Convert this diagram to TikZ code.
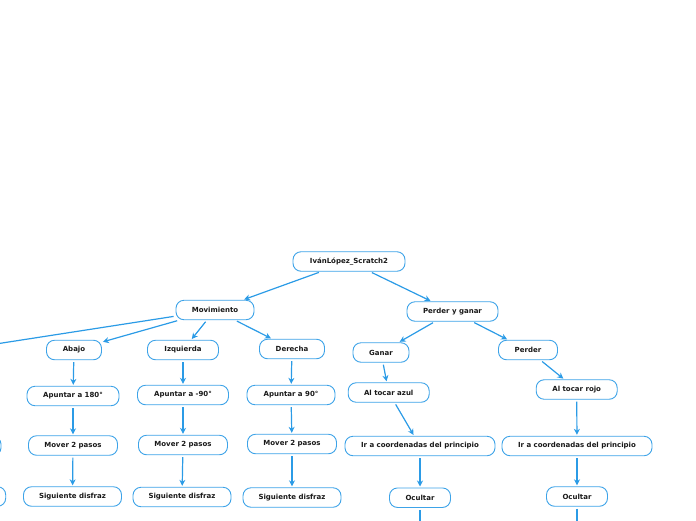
\documentclass[tikz,border=0pt]{standalone}
\usepackage{fontspec}
\setmainfont{DejaVu Sans}
\usetikzlibrary{arrows.meta}
\definecolor{edgeblue}{RGB}{43,155,230}
\definecolor{boxblue}{RGB}{61,163,232}
\definecolor{txt}{RGB}{25,25,25}
\tikzset{
  topic/.style={draw=boxblue, line width=0.9pt, rounded corners=8pt, fill=white,
    minimum height=19.5pt, inner sep=0pt, text=txt,
    font=\fontsize{7}{8}\selectfont\bfseries},
  conn/.style={draw=edgeblue, line width=1.2pt, shorten <=2pt, shorten >=1pt,
    -{Stealth[length=6pt,width=6pt]}},
  plain/.style={draw=edgeblue, line width=1.2pt, shorten <=2pt}
}
\begin{document}
\begin{tikzpicture}[x=1pt,y=-1pt]
\useasboundingbox (0,0) rectangle (696,520);
% nodes
\node[topic, minimum width=112pt] (root) at (349,261.5) {IvánLópez\_Scratch2};
\node[topic, minimum width=78pt] (mov) at (215,310) {Movimiento};
\node[topic, minimum width=91pt] (pyg) at (452.5,311.5) {Perder y ganar};
\node[topic, minimum width=56pt] (ganar) at (381,352.5) {Ganar};
\node[topic, minimum width=59pt] (perder) at (528,350) {Perder};
\node[topic, minimum width=55pt] (abajo) at (74,350) {Abajo};
\node[topic, minimum width=71pt] (izq) at (183,350) {Izquierda};
\node[topic, minimum width=65pt] (der) at (292,349) {Derecha};
\node[topic, minimum width=92pt] (ap1) at (73,396) {Apuntar a 180°};
\node[topic, minimum width=91pt] (ap2) at (183,395) {Apuntar a -90°};
\node[topic, minimum width=88pt] (ap3) at (291,395) {Apuntar a 90°};
\node[topic, minimum width=89pt] (mv1) at (73,445.5) {Mover 2 pasos};
\node[topic, minimum width=89pt] (mv2) at (183,445) {Mover 2 pasos};
\node[topic, minimum width=89pt] (mv3) at (292,444) {Mover 2 pasos};
\node[topic, minimum width=98pt] (sd1) at (72.5,496.5) {Siguiente disfraz};
\node[topic, minimum width=98pt] (sd2) at (182,497) {Siguiente disfraz};
\node[topic, minimum width=98pt] (sd3) at (292,497.5) {Siguiente disfraz};
\node[topic, minimum width=81pt] (azul) at (388.7,392.5) {Al tocar azul};
\node[topic, minimum width=81pt] (rojo) at (576.7,389.5) {Al tocar rojo};
\node[topic, minimum width=150pt] (ir1) at (420,446) {Ir a coordenadas del principio};
\node[topic, minimum width=150pt] (ir2) at (577,446) {Ir a coordenadas del principio};
\node[topic, minimum width=61pt] (oc1) at (420,497.7) {Ocultar};
\node[topic, minimum width=61pt] (oc2) at (577,496.5) {Ocultar};
% partially visible nodes at the left edge
\node[topic, minimum width=89pt] (mvL) at (-43.5,446) {};
\node[topic, minimum width=98pt] (sdL) at (-43.3,496.5) {};
\coordinate (arriba) at (-43,350);
\coordinate (down1) at (420,545);
\coordinate (down2) at (577,545);
% connectors
\draw[conn] (root) -- (mov);
\draw[conn] (root) -- (pyg);
\draw[conn] (mov) -- (arriba);
\draw[conn] (mov) -- (abajo);
\draw[conn] (mov) -- (izq);
\draw[conn] (mov) -- (der);
\draw[conn] (abajo) -- (ap1);
\draw[conn] (izq) -- (ap2);
\draw[conn] (der) -- (ap3);
\draw[conn] (ap1) -- (mv1);
\draw[conn] (ap2) -- (mv2);
\draw[conn] (ap3) -- (mv3);
\draw[conn] (mv1) -- (sd1);
\draw[conn] (mv2) -- (sd2);
\draw[conn] (mv3) -- (sd3);
\draw[conn] (pyg) -- (ganar);
\draw[conn] (pyg) -- (perder);
\draw[conn] (ganar) -- (azul);
\draw[conn] (perder) -- (rojo);
\draw[conn] (azul) -- (ir1);
\draw[conn] (rojo) -- (ir2);
\draw[conn] (ir1) -- (oc1);
\draw[conn] (ir2) -- (oc2);
\draw[plain] (oc1) -- (down1);
\draw[plain] (oc2) -- (down2);
\end{tikzpicture}
\end{document}
